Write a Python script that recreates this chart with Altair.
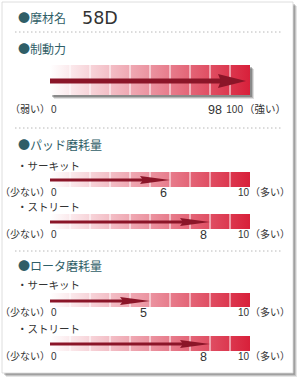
import altair as alt
import pandas as pd

# ---------------- data ----------------
title_label = "●摩材名"
product_name = "58D"
section_titles = ["●制動力", "●パッド磨耗量", "●ロータ磨耗量"]

gauge_ids = ["brake", "pad_circuit", "pad_street", "rotor_circuit", "rotor_street"]
gauge_sublabels = ["", "・サーキット", "・ストリート", "・サーキット", "・ストリート"]
gauge_values = [98, 6, 8, 5, 8]
gauge_max = [100, 10, 10, 10, 10]
low_labels = ["（弱い）", "（少ない）", "（少ない）", "（少ない）", "（少ない）"]
high_labels = ["（強い）", "（多い）", "（多い）", "（多い）", "（多い）"]
cell_ticks = [10, 20, 30, 40, 50, 60, 70, 80, 90]

# ---------------- layout (pixels) ----------------
title_y = 18.5
divider_y = [32, 128, 251]
section_y = [50, 146, 267]
bar_top = [65, 172, 214, 293, 336]
bar_bottom = [95, 187, 229, 307, 351]
arrow_y = [81, 180, 222, 301, 344]
label_y = [110, 193, 235, 313, 357]
sublabel_y = [0, 167, 208, 286, 330]

W, H = 300, 380
X = alt.Scale(domain=[-25, 125], range=[0, W])
Y = alt.Scale(domain=[0, H], range=[0, H])

JP = "Noto Sans CJK JP"
NUM = "Liberation Sans"
TEAL = "#2f5e67"
TXT = "#333333"
RED_DARK = "#8b1528"

gauges = pd.DataFrame({
    "id": gauge_ids,
    "sub": gauge_sublabels,
    "value": gauge_values,
    "max": gauge_max,
    "low": low_labels,
    "high": high_labels,
    "top": bar_top,
    "bottom": bar_bottom,
    "ay": arrow_y,
    "ly": label_y,
    "sy": sublabel_y,
})
gauges["pct"] = gauges["value"] / gauges["max"] * 100
gauges["zero"] = 0
gauges["full"] = 100
gauges["vtxt"] = gauges["value"].astype(str)
gauges["mtxt"] = gauges["max"].astype(str)
gauges["ztxt"] = "0"

ticks = gauges.merge(pd.DataFrame({"tick": cell_ticks}), how="cross")

base = alt.Chart(gauges)
one = alt.Chart(pd.DataFrame({"k": [0]}))

# card with shadow
card_layers = []
for off, op in [(4, 0.10), (3, 0.14), (2, 0.18)]:
    card_layers.append(
        one.mark_rect(color="#000000", opacity=op).encode(
            x=alt.value(2 + off), x2=alt.value(293 + off),
            y=alt.value(2 + off), y2=alt.value(373 + off))
    )
card = one.mark_rect(fill="white", stroke="#d6d6d6", strokeWidth=0.8).encode(
    x=alt.value(2), x2=alt.value(293), y=alt.value(2), y2=alt.value(373))

dividers = alt.Chart(pd.DataFrame({"y": divider_y})).mark_rule(
    color="#b8b8b8", strokeDash=[1.5, 2.5], strokeWidth=1
).encode(x=alt.value(15), x2=alt.value(283), y=alt.Y("y:Q", scale=Y, axis=None))

title = one.mark_text(align="left", baseline="middle", font=JP, fontSize=12, color=TEAL).encode(
    x=alt.value(18), y=alt.value(title_y), text=alt.value(title_label))
name = one.mark_text(align="left", baseline="middle", font="DejaVu Sans", fontSize=17.5, color=TXT).encode(
    x=alt.value(82), y=alt.value(title_y), text=alt.value(product_name))

sections = alt.Chart(pd.DataFrame({"t": section_titles, "y": section_y})).mark_text(
    align="left", baseline="middle", font=JP, fontSize=12, color=TEAL
).encode(x=alt.value(18), y=alt.Y("y:Q", scale=Y, axis=None), text="t:N")

big = base.transform_filter("datum.id == 'brake'")
small = base.transform_filter("datum.id != 'brake'")

xz = alt.X("zero:Q", scale=X, axis=None)
xf = alt.X("full:Q", scale=X, axis=None)
yt = alt.Y("top:Q", scale=Y, axis=None)

shadow = [
    big.mark_rect(color="#000000", opacity=op, xOffset=o, x2Offset=o, yOffset=o, y2Offset=o).encode(
        x=xz, x2="full:Q", y=yt, y2="bottom:Q")
    for o, op in [(4, 0.12), (3, 0.18), (2, 0.25)]
]

grad = alt.Gradient(
    gradient="linear",
    stops=[alt.GradientStop(color="#ffffff", offset=0),
           alt.GradientStop(color="#eb93a0", offset=0.5),
           alt.GradientStop(color="#d8203a", offset=1)],
    x1=0, x2=1, y1=0, y2=0)
bars = base.mark_rect(color=grad).encode(x=xz, x2="full:Q", y=yt, y2="bottom:Q")

seps = alt.Chart(ticks).mark_rule(color="white", strokeWidth=1).encode(
    x=alt.X("tick:Q", scale=X, axis=None), y=yt, y2="bottom:Q")

ya = alt.Y("ay:Q", scale=Y, axis=None)
shaft_big = big.mark_rule(color=RED_DARK, strokeWidth=5, x2Offset=-20).encode(x=xz, x2="pct:Q", y=ya)
shaft_small = small.mark_rule(color=RED_DARK, strokeWidth=3, x2Offset=-20).encode(x=xz, x2="pct:Q", y=ya)
head_big = big.mark_point(
    filled=True, color=RED_DARK, opacity=1, strokeWidth=0,
    shape="M-2,-0.5L0,0L-2,0.5L-1.8,0Z", size=784
).encode(x=alt.X("pct:Q", scale=X, axis=None), y=ya)
head_small = small.mark_point(
    filled=True, color=RED_DARK, opacity=1, strokeWidth=0,
    shape="M-2,-0.27L0,0L-2,0.27L-1.8,0Z", size=900
).encode(x=alt.X("pct:Q", scale=X, axis=None), y=ya)

yl = alt.Y("ly:Q", scale=Y, axis=None)
low_txt = base.mark_text(align="right", baseline="middle", font=JP, fontSize=10, color=TXT, dx=0).encode(
    x=xz, y=yl, text="low:N")
zero_txt = base.mark_text(align="left", baseline="middle", font=NUM, fontSize=10, color=TXT, dx=1).encode(
    x=xz, y=yl, text="ztxt:N")
max_big = big.mark_text(align="right", baseline="middle", font=NUM, fontSize=10, color=TXT, dx=-7).encode(
    x=xf, y=yl, text="mtxt:N")
max_small = small.mark_text(align="right", baseline="middle", font=NUM, fontSize=10, color=TXT, dx=-1).encode(
    x=xf, y=yl, text="mtxt:N")
high_big = big.mark_text(align="left", baseline="middle", font=JP, fontSize=10.5, color=TXT, dx=-6).encode(
    x=xf, y=yl, text="high:N")
high_small = small.mark_text(align="left", baseline="middle", font=JP, fontSize=10, color=TXT, dx=0).encode(
    x=xf, y=yl, text="high:N")
val_big = big.mark_text(align="right", baseline="middle", font=NUM, fontSize=12.5, color=TXT, dx=-24).encode(
    x=alt.X("pct:Q", scale=X, axis=None), y=yl, text="vtxt:N")
val_small = small.mark_text(align="right", baseline="middle", font=NUM, fontSize=12.5, color=TXT, dx=-3).encode(
    x=alt.X("pct:Q", scale=X, axis=None), y=yl, text="vtxt:N")
subs = small.mark_text(align="left", baseline="middle", font=JP, fontSize=10.5, color=TXT).encode(
    x=alt.value(17), y=alt.Y("sy:Q", scale=Y, axis=None), text="sub:N")

chart = alt.layer(
    *card_layers, card, dividers, title, name, sections,
    *shadow, bars, seps, shaft_big, shaft_small, head_big, head_small,
    low_txt, zero_txt, max_big, max_small, high_big, high_small, val_big, val_small, subs
).properties(
    width=W, height=H, padding=0, autosize=alt.AutoSizeParams(type="none"),
    background="white"
).configure_view(stroke=None)

chart.save("out.html", embed_options={"renderer": "svg", "actions": False})
